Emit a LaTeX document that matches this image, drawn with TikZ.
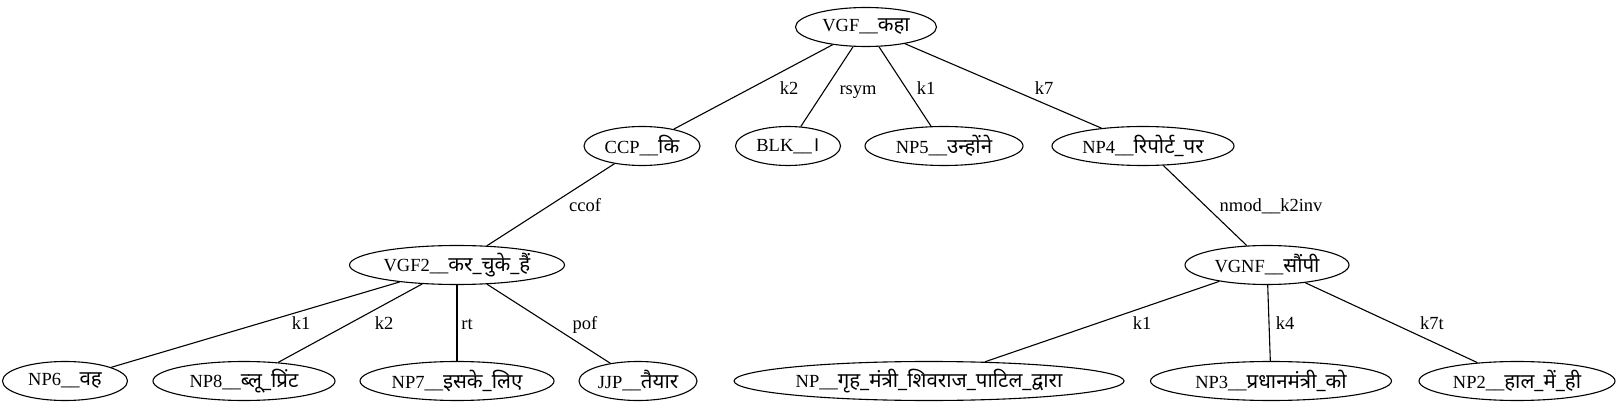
\documentclass[tikz,border=0pt]{standalone}
\usepackage{fontspec}
\setmainfont{Liberation Serif}
\newfontfamily\dev[Script=Devanagari]{Noto Sans}
\usetikzlibrary{shapes.geometric}
\tikzset{
  tnode/.style={ellipse, draw, line width=1.1pt, inner sep=0pt, minimum height=39pt, font=\fontsize{18.5}{20}\selectfont},
  edge/.style={line width=1.1pt},
  elab/.style={font=\fontsize{18.5}{20}\selectfont, inner sep=0pt, text height=12.5pt, text depth=0pt}
}
\newcommand{\hin}[1]{{\dev\fontsize{20.5}{20}\selectfont #1}}
\begin{document}
\begin{tikzpicture}[x=1pt,y=-1pt]
\useasboundingbox (0,0) rectangle (1621,411);
% level 0
\node[tnode, minimum width=141pt] (vgf) at (866,27) {VGF\_\_\hin{कहा}};
% level 1
\node[tnode, minimum width=116pt] (ccp) at (642,146) {CCP\_\_\hin{कि}};
\node[tnode, minimum width=105pt] (blk) at (788,146) {BLK\_\_\hin{।}};
\node[tnode, minimum width=158pt] (np5) at (944,146) {NP5\_\_\hin{उन्होंने}};
\node[tnode, minimum width=182pt] (np4) at (1143,146) {NP4\_\_\hin{रिपोर्ट\_पर}};
% level 2
\node[tnode, minimum width=215pt] (vgf2) at (457,265) {VGF2\_\_\hin{कर\_चुके\_हैं}};
\node[tnode, minimum width=164pt] (vgnf) at (1267,265) {VGNF\_\_\hin{सौंपी}};
% level 3
\node[tnode, minimum width=125pt] (np6) at (65,381) {NP6\_\_\hin{वह}};
\node[tnode, minimum width=182pt] (np8) at (244,381) {NP8\_\_\hin{ब्लू\_प्रिंट}};
\node[tnode, minimum width=194pt] (np7) at (457,381) {NP7\_\_\hin{इसके\_लिए}};
\node[tnode, minimum width=118pt] (jjp) at (638,381) {JJP\_\_\hin{तैयार}};
\node[tnode, minimum width=390pt] (npg) at (929,381) {NP\_\_\hin{गृह\_मंत्री\_शिवराज\_पाटिल\_द्वारा}};
\node[tnode, minimum width=241pt] (np3) at (1271,381) {NP3\_\_\hin{प्रधानमंत्री\_को}};
\node[tnode, minimum width=196pt] (np2) at (1517,381) {NP2\_\_\hin{हाल\_में\_ही}};
% edges
\draw[edge] (vgf) -- (ccp);
\draw[edge] (vgf) -- (blk);
\draw[edge] (vgf) -- (np5);
\draw[edge] (vgf) -- (np4);
\draw[edge] (ccp) -- (vgf2);
\draw[edge] (np4) -- (vgnf);
\draw[edge] (vgf2) -- (np6);
\draw[edge] (vgf2) -- (np8);
\draw[edge] (vgf2) -- (np7);
\draw[edge] (vgf2) -- (jjp);
\draw[edge] (vgnf) -- (npg);
\draw[edge] (vgnf) -- (np3);
\draw[edge] (vgnf) -- (np2);
% labels
\node[elab] (l1) at (789,88) {k2};
\node[elab] (l2) at (858,88) {rsym};
\node[elab] (l3) at (926,88) {k1};
\node[elab] (l4) at (1044,88) {k7};
\node[elab] (l5) at (585,205) {ccof};
\node[elab] (l6) at (1271,205) {nmod\_\_k2inv};
\node[elab] (l7) at (301,323) {k1};
\node[elab] (l8) at (384,323) {k2};
\node[elab] (l9) at (467,323) {rt};
\node[elab] (l10) at (585,323) {pof};
\node[elab] (l11) at (1142,323) {k1};
\node[elab] (l12) at (1285,323) {k4};
\node[elab] (l13) at (1432,323) {k7t};
\end{tikzpicture}
\end{document}
